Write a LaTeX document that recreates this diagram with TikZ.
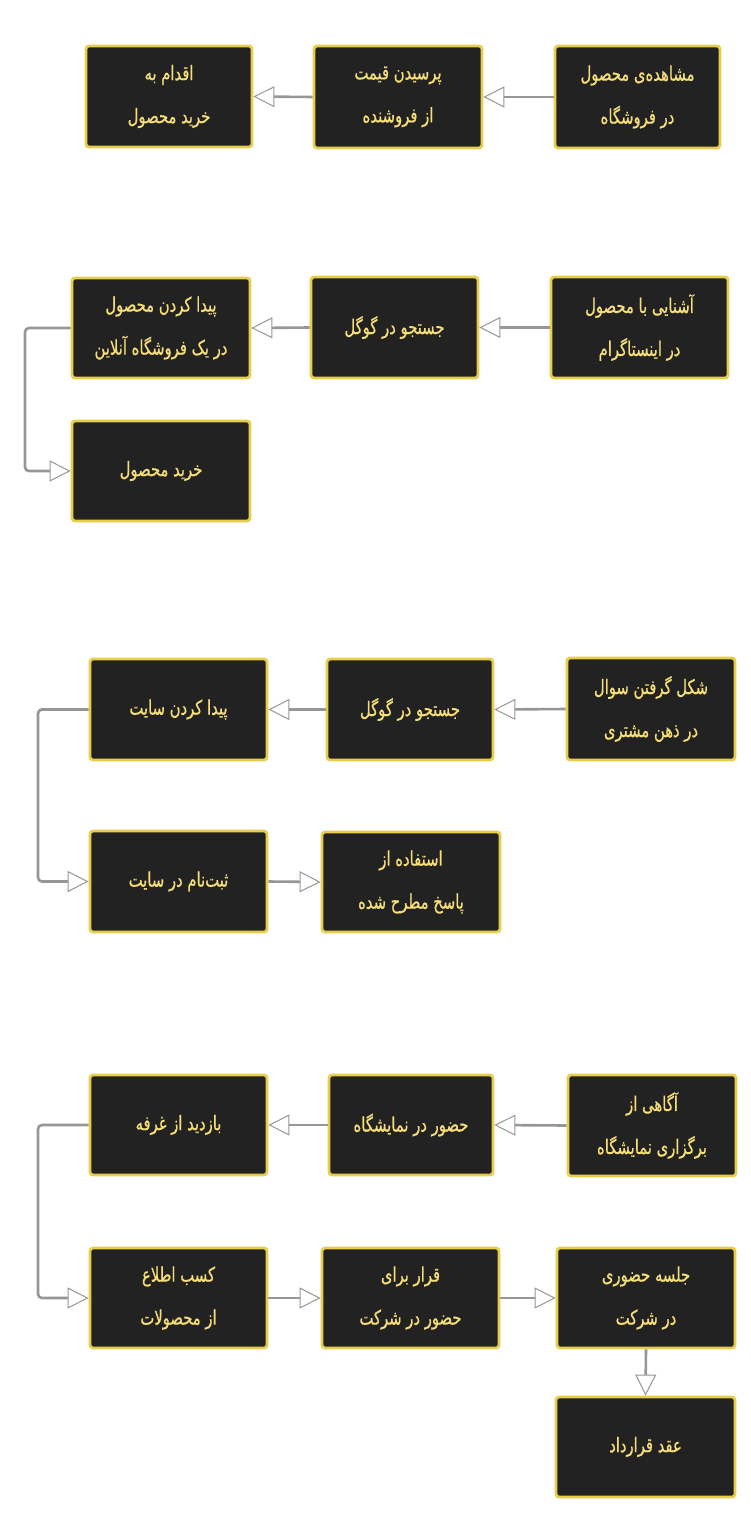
\documentclass[tikz,border=0pt]{standalone}
\usepackage{fontspec}
\usetikzlibrary{arrows.meta}
\TeXXeTstate=1
\newfontfamily\arabicfont[Script=Arabic,FakeStretch=0.74,FakeBold=0.7]{DejaVu Sans}
\newcommand{\fa}[1]{\beginR #1\endR}
\definecolor{boxfill}{RGB}{34,34,34}
\definecolor{boxline}{RGB}{230,205,75}
\definecolor{txtcol}{RGB}{246,222,120}
\definecolor{arrline}{RGB}{150,150,150}
\tikzset{
  box/.style={draw=boxline, fill=boxfill, line width=2.8pt, rounded corners=3pt,
    text=txtcol, align=center, inner sep=2pt,
    font=\arabicfont\fontsize{20}{43}\selectfont},
  arr/.style={draw=arrline, line width=2.6pt, rounded corners=4pt,
    -{Triangle[length=21pt,width=21pt,fill=white,line width=1pt]}}
}
\begin{document}
\begin{tikzpicture}[x=1pt,y=-1pt]
\useasboundingbox (0,0) rectangle (750,1522);
% section 1
\node[box, minimum width=166pt, minimum height=101pt] (A1) at (169,96.5) {\fa{اقدام به}\\\fa{خرید محصول}};
\node[box, minimum width=168pt, minimum height=102pt] (A2) at (398,97) {\fa{پرسیدن قیمت}\\\fa{از فروشنده}};
\node[box, minimum width=165pt, minimum height=102pt] (A3) at (637.5,97) {\fa{مشاهده‌ی محصول}\\\fa{در فروشگاه}};
\draw[arr] (A3.west) -- (A2.east);
\draw[arr] (A2.west) -- (A1.east);
% section 2
\node[box, minimum width=178pt, minimum height=100pt] (B1) at (161,328) {\fa{پیدا کردن محصول}\\\fa{در یک فروشگاه آنلاین}};
\node[box, minimum width=167pt, minimum height=101pt] (B2) at (394.5,327.5) {\fa{جستجو در گوگل}};
\node[box, minimum width=177pt, minimum height=101pt] (B3) at (639.5,327.5) {\fa{آشنایی با محصول}\\\fa{در اینستاگرام}};
\node[box, minimum width=178pt, minimum height=100pt] (B4) at (161,471) {\fa{خرید محصول}};
\coordinate (bk) at (25,328);
\draw[arr] (B3.west) -- (B2.east);
\draw[arr] (B2.west) -- (B1.east);
\draw[arr] (B1.west) -- (bk) |- (B4.west);
% section 3
\node[box, minimum width=177pt, minimum height=101pt] (C1) at (178.5,709.5) {\fa{پیدا کردن سایت}};
\node[box, minimum width=166pt, minimum height=101pt] (C2) at (410,709.5) {\fa{جستجو در گوگل}};
\node[box, minimum width=168pt, minimum height=102pt] (C3) at (651,709) {\fa{شکل گرفتن سوال}\\\fa{در ذهن مشتری}};
\node[box, minimum width=177pt, minimum height=101pt] (C4) at (178.5,881.5) {\fa{ثبت‌نام در سایت}};
\node[box, minimum width=178pt, minimum height=100pt] (C5) at (411,882) {\fa{استفاده از}\\\fa{پاسخ مطرح شده}};
\coordinate (ck) at (38,709.5);
\draw[arr] (C3.west) -- (C2.east);
\draw[arr] (C2.west) -- (C1.east);
\draw[arr] (C1.west) -- (ck) |- (C4.west);
\draw[arr] (C4.east) -- (C5.west);
% section 4
\node[box, minimum width=177pt, minimum height=100pt] (D1) at (178.5,1125) {\fa{بازدید از غرفه}};
\node[box, minimum width=164pt, minimum height=100pt] (D2) at (411,1125) {\fa{حضور در نمایشگاه}};
\node[box, minimum width=168pt, minimum height=101pt] (D3) at (652,1125.5) {\fa{آگاهی از}\\\fa{برگزاری نمایشگاه}};
\node[box, minimum width=177pt, minimum height=100pt] (D4) at (178.5,1298) {\fa{کسب اطلاع}\\\fa{از محصولات}};
\node[box, minimum width=177pt, minimum height=100pt] (D5) at (410.5,1298) {\fa{قرار برای}\\\fa{حضور در شرکت}};
\node[box, minimum width=178pt, minimum height=100pt] (D6) at (646,1298) {\fa{جلسه حضوری}\\\fa{در شرکت}};
\node[box, minimum width=179pt, minimum height=100pt] (D7) at (645.5,1447) {\fa{عقد قرارداد}};
\coordinate (dk) at (38,1125);
\draw[arr] (D3.west) -- (D2.east);
\draw[arr] (D2.west) -- (D1.east);
\draw[arr] (D1.west) -- (dk) |- (D4.west);
\draw[arr] (D4.east) -- (D5.west);
\draw[arr] (D5.east) -- (D6.west);
\draw[arr] (D6.south) -- (D7.north);
\end{tikzpicture}
\end{document}
